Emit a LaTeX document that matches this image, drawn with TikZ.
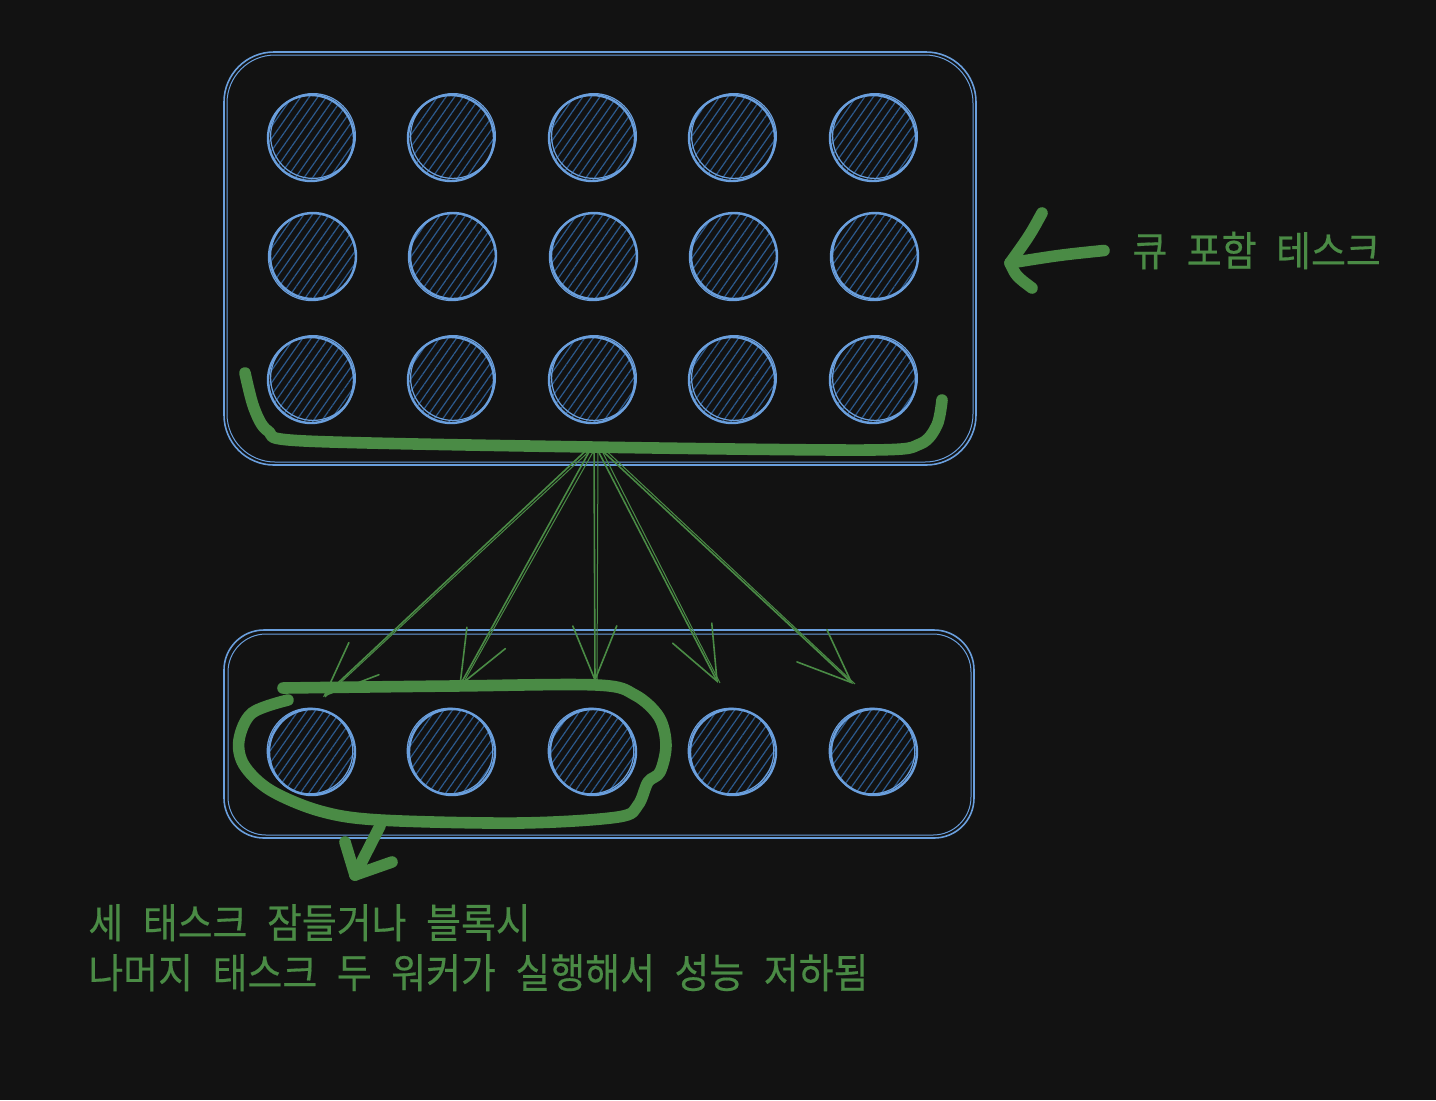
\documentclass[tikz,border=0pt]{standalone}
\usepackage{fontspec}
\newfontfamily\kr[FakeStretch=0.925,WordSpace=2.3,FakeBold=0.4]{Noto Sans CJK KR}
\usetikzlibrary{arrows.meta,patterns.meta}
\definecolor{bg}{HTML}{121212}
\definecolor{gr}{HTML}{4A8B45}
\definecolor{bl}{HTML}{6A9FDD}
\definecolor{hatch}{HTML}{2C5A8E}
\begin{document}
\begin{tikzpicture}[x=0.5pt,y=-0.5pt,
  ball/.style={circle,draw=bl,line width=1.2pt,minimum size=43pt,inner sep=0pt,
    pattern={Lines[angle=55,distance=3.5pt,line width=0.6pt]},pattern color=hatch},
  ballsketch/.style={draw=bl,line width=0.6pt},
  frame/.style={draw=bl,line width=0.8pt,inner sep=0pt},
  gline/.style={draw=gr,line width=5.8pt,line cap=round,line join=round},
  fan/.style={draw=gr,line width=0.8pt,-{Straight Barb[length=27pt,width=22pt,line cap=round]}},
  fanthin/.style={draw=gr,line width=0.5pt},
  lbl/.style={text=gr,font=\kr\fontsize{20.5pt}{25pt}\selectfont,inner sep=0pt,anchor=base west}]
\fill[bg] (0,0) rectangle (1436,1100);
\useasboundingbox (0,0) rectangle (1436,1100);

% frames
\node[frame,rounded corners=25pt,minimum width=376pt,minimum height=206.5pt] (topq) at (600,258.5) {};
\draw[bl,line width=0.5pt,rounded corners=24pt] (227,55) rectangle (973,462);
\node[frame,rounded corners=20pt,minimum width=375pt,minimum height=104pt] (botq) at (599,734) {};
\draw[bl,line width=0.5pt,rounded corners=19pt] (228,634) rectangle (971,835);

% circles
\foreach \c/\x in {1/311,2/451,3/592,4/732,5/873}{
  \node[ball] (a\c) at (\x,138) {};
  \node[ball] (b\c) at (\x+2,256) {};
  \node[ball] (c\c) at (\x,380) {};
  \node[ball] (d\c) at (\x+1,752) {};
  \draw[ballsketch] ([shift={(2,-2)}]a\c.center) circle[radius=21.2pt];
  \draw[ballsketch] ([shift={(-1,1)}]b\c.center) circle[radius=21.8pt];
  \draw[ballsketch] ([shift={(2,-2)}]c\c.center) circle[radius=21.2pt];
  \draw[ballsketch] ([shift={(-2,-1)}]d\c.center) circle[radius=21.4pt];
}

% green underline of top queue
\draw[gline] plot[smooth,tension=0.5] coordinates {(245,373) (254,408) (268,431) (305,441) (590,447) (870,450) (920,444) (937,425) (942,400)};

% right label and arrow
\node[lbl] (qlbl) at (1132,266) {큐 포함 테스크};
\coordinate (qtip) at (1010,263);
\draw[gline] ([xshift=-14pt]qlbl.west) .. controls (1060,255) .. (qtip);
\draw[gline] (1042,213) .. controls (1030,235) .. (qtip) .. controls (1016,276) .. (1032,288);

% fan of arrows
\coordinate (src) at (594,443);
\coordinate (t1) at (323,697);
\coordinate (t2) at (459,687);
\coordinate (t3) at (595,682);
\coordinate (t4) at (718,683);
\coordinate (t5) at (853,684);
\foreach \t in {t1,t2,t3,t4,t5}{
  \draw[fan] (src) -- (\t);
  \draw[fanthin] ([xshift=2pt]src) -- ([xshift=1pt]\t);
}

% loop around the first three tasks
\draw[gline] plot[smooth,tension=0.55] coordinates {(288,700) (252,713) (239,740) (244,765) (270,790) (320,811) (380,820) (520,823) (618,817) (638,805) (648,782) (660,772) (666,745) (659,717) (635,695) (597,685) (453,686) (283,688)};
\coordinate (ltip) at (355,875);
\draw[gline] (380,826) -- (ltip);
\draw[gline] (345,842) -- (ltip) -- (392,862);

% bottom text
\node[lbl] (l1) at (88,938) {세 태스크 잠들거나 블록시};
\node[lbl] (l2) at (88,988) {나머지 태스크 두 워커가 실행해서 성능 저하됨};
\end{tikzpicture}
\end{document}
